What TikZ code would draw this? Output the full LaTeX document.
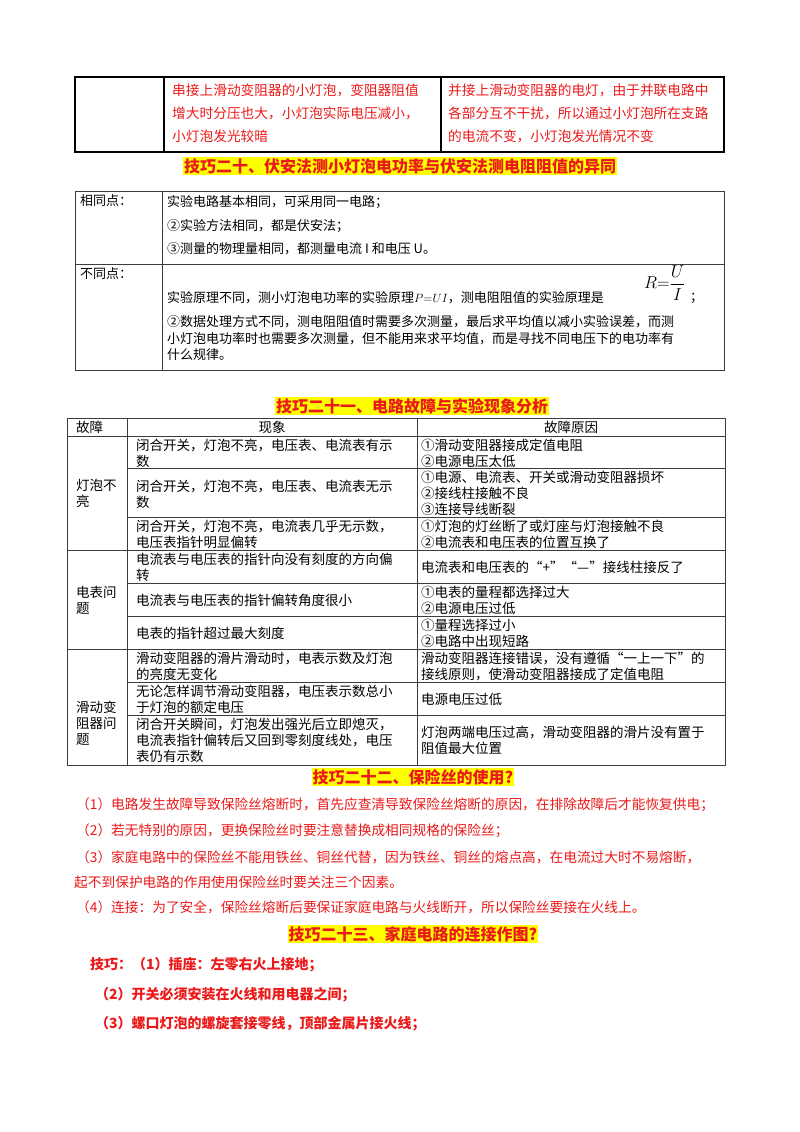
\documentclass[tikz,border=0pt]{standalone}
\usepackage{fontspec}
\usepackage{amsmath}
\setmainfont{Noto Sans CJK SC}
\definecolor{hired}{RGB}{235,25,25}
\definecolor{hiyel}{RGB}{255,255,0}
\definecolor{rule}{RGB}{60,60,60}
\tikzset{
  txt/.style={anchor=west,inner sep=0pt,align=left,font=\fontsize{13.5}{16}\selectfont},
  redtxt/.style={txt,text=hired,font=\fontsize{13.7}{16}\selectfont},
  boldred/.style={txt,text=hired,font=\fontsize{14}{16}\selectfont\bfseries},
  title/.style={inner sep=1pt,fill=hiyel,text=hired,font=\fontsize{16}{18}\selectfont\bfseries},
  thick rule/.style={line width=1.6pt,black},
  thin rule/.style={line width=0.7pt,rule}
}
\begin{document}
\begin{tikzpicture}[x=1pt,y=-1pt]
	\useasboundingbox (0,0) rectangle (800,1132);
	% first table
	\draw [thick rule] (75,77) rectangle (724,152);
	\draw [thick rule] (164,77) -- (164,152);
	\draw [thick rule] (441,77) -- (441,152);
	\node [redtxt] (t1a) at (172,90) {串接上滑动变阻器的小灯泡，变阻器阻值};
	\node [redtxt] (t1b) at (172,113) {增大时分压也大，小灯泡实际电压减小，};
	\node [redtxt] (t1c) at (172,136) {小灯泡发光较暗};
	\node [redtxt] (t1d) at (448,90) {并接上滑动变阻器的电灯，由于并联电路中};
	\node [redtxt] (t1e) at (448,113) {各部分互不干扰，所以通过小灯泡所在支路};
	\node [redtxt] (t1f) at (448,136) {的电流不变，小灯泡发光情况不变};
	%
	\node [title] (h20) at (400,166) {技巧二十、伏安法测小灯泡电功率与伏安法测电阻阻值的异同};
	% second table
	\draw [thin rule] (75,191) rectangle (724,370);
	\draw [thin rule] (75,264) -- (724,264);
	\draw [thin rule] (162,191) -- (162,370);
	\node [txt,font=\fontsize{13}{16}\selectfont] (same) at (80,201) {相同点：};
	\node [txt,font=\fontsize{13}{16}\selectfont] (diff) at (80,274) {不同点：};
	\node [txt,font=\fontsize{13}{16}\selectfont] (s1) at (167,202) {实验电路基本相同，可采用同一电路；};
	\node [txt,font=\fontsize{13}{16}\selectfont] (s2) at (167,226) {②实验方法相同，都是伏安法；};
	\node [txt,font=\fontsize{13}{16}\selectfont] (s3) at (167,249) {③测量的物理量相同，都测量电流 I 和电压 U。};
	\node [txt,font=\fontsize{13}{16}\selectfont] (d1) at (167,298) {实验原理不同，测小灯泡电功率的实验原理$P{=}UI$，测电阻阻值的实验原理是};
	\node [txt,font=\fontsize{16}{18}\selectfont] (rf) at (644,283) {$R{=}\dfrac{U}{I}$};
	\node [txt,font=\fontsize{13}{16}\selectfont] (semi) at (690,298) {；};
	\node [txt,font=\fontsize{13}{16}\selectfont] (d2) at (167,322) {②数据处理方式不同，测电阻阻值时需要多次测量，最后求平均值以减小实验误差，而测};
	\node [txt,font=\fontsize{13}{16}\selectfont] (d3) at (167,339) {小灯泡电功率时也需要多次测量，但不能用来求平均值，而是寻找不同电压下的电功率有};
	\node [txt,font=\fontsize{13}{16}\selectfont] (d4) at (167,355) {什么规律。};
	%
	\node [title] (h21) at (412,406) {技巧二十一、电路故障与实验现象分析};
	% third table
	\draw [thin rule] (67,418) rectangle (725,765);
	\draw [thin rule] (127,418) -- (127,765);
	\draw [thin rule] (417,418) -- (417,765);
	\draw [thin rule] (67,436) -- (725,436);
	\foreach \yy in {550,649} \draw [thin rule] (67,\yy) -- (725,\yy);
	\foreach \yy in {468,517,583,616,682,715} \draw [thin rule] (127,\yy) -- (725,\yy);
	\node [txt] (c0) at (76,427) {故障};
	\node [txt,anchor=center] (c1) at (272,427) {现象};
	\node [txt,anchor=center] (c2) at (571,427) {故障原因};
	\node [txt] (g1) at (76,493) {灯泡不\\亮};
	\node [txt] (g2) at (76,600) {电表问\\题};
	\node [txt] (g3) at (76,723) {滑动变\\阻器问\\题};
	\node [txt] (p1) at (136,453) {闭合开关，灯泡不亮，电压表、电流表有示\\数};
	\node [txt] (r1) at (421,453) {①滑动变阻器接成定值电阻\\②电源电压太低};
	\node [txt] (p2) at (136,494) {闭合开关，灯泡不亮，电压表、电流表无示\\数};
	\node [txt] (r2) at (421,493) {①电源、电流表、开关或滑动变阻器损坏\\②接线柱接触不良\\③连接导线断裂};
	\node [txt] (p3) at (136,534) {闭合开关，灯泡不亮，电流表几乎无示数，\\电压表指针明显偏转};
	\node [txt] (r3) at (421,534) {①灯泡的灯丝断了或灯座与灯泡接触不良\\②电流表和电压表的位置互换了};
	\node [txt] (p4) at (136,567) {电流表与电压表的指针向没有刻度的方向偏\\转};
	\node [txt] (r4) at (421,567) {电流表和电压表的“+”“—”接线柱接反了};
	\node [txt] (p5) at (136,600) {电流表与电压表的指针偏转角度很小};
	\node [txt] (r5) at (421,600) {①电表的量程都选择过大\\②电源电压过低};
	\node [txt] (p6) at (136,633) {电表的指针超过最大刻度};
	\node [txt] (r6) at (421,633) {①量程选择过小\\②电路中出现短路};
	\node [txt] (p7) at (136,666) {滑动变阻器的滑片滑动时，电表示数及灯泡\\的亮度无变化};
	\node [txt] (r7) at (421,666) {滑动变阻器连接错误，没有遵循“一上一下”的\\接线原则，使滑动变阻器接成了定值电阻};
	\node [txt] (p8) at (136,699) {无论怎样调节滑动变阻器，电压表示数总小\\于灯泡的额定电压};
	\node [txt] (r8) at (421,699) {电源电压过低};
	\node [txt] (p9) at (136,740) {闭合开关瞬间，灯泡发出强光后立即熄灭，\\电流表指针偏转后又回到零刻度线处，电压\\表仍有示数};
	\node [txt] (r9) at (421,740) {灯泡两端电压过高，滑动变阻器的滑片没有置于\\阻值最大位置};
	%
	\node [title] (h22) at (413,777) {技巧二十二、保险丝的使用?};
	\node [redtxt] (f1) at (76,805) {（1）电路发生故障导致保险丝熔断时，首先应查清导致保险丝熔断的原因，在排除故障后才能恢复供电；};
	\node [redtxt] (f2) at (76,831) {（2）若无特别的原因，更换保险丝时要注意替换成相同规格的保险丝；};
	\node [redtxt] (f3) at (76,857) {（3）家庭电路中的保险丝不能用铁丝、铜丝代替，因为铁丝、铜丝的熔点高，在电流过大时不易熔断，};
	\node [redtxt] (f4) at (74,882) {起不到保护电路的作用使用保险丝时要关注三个因素。};
	\node [redtxt] (f5) at (76,907) {（4）连接：为了安全，保险丝熔断后要保证家庭电路与火线断开，所以保险丝要接在火线上。};
	%
	\node [title] (h23) at (413,934) {技巧二十三、家庭电路的连接作图?};
	\node [boldred] (k1) at (90,965) {技巧：（1）插座：左零右火上接地；};
	\node [boldred] (k2) at (95,995) {（2）开关必须安装在火线和用电器之间；};
	\node [boldred] (k3) at (95,1024) {（3）螺口灯泡的螺旋套接零线，顶部金属片接火线；};
\end{tikzpicture}
\end{document}
